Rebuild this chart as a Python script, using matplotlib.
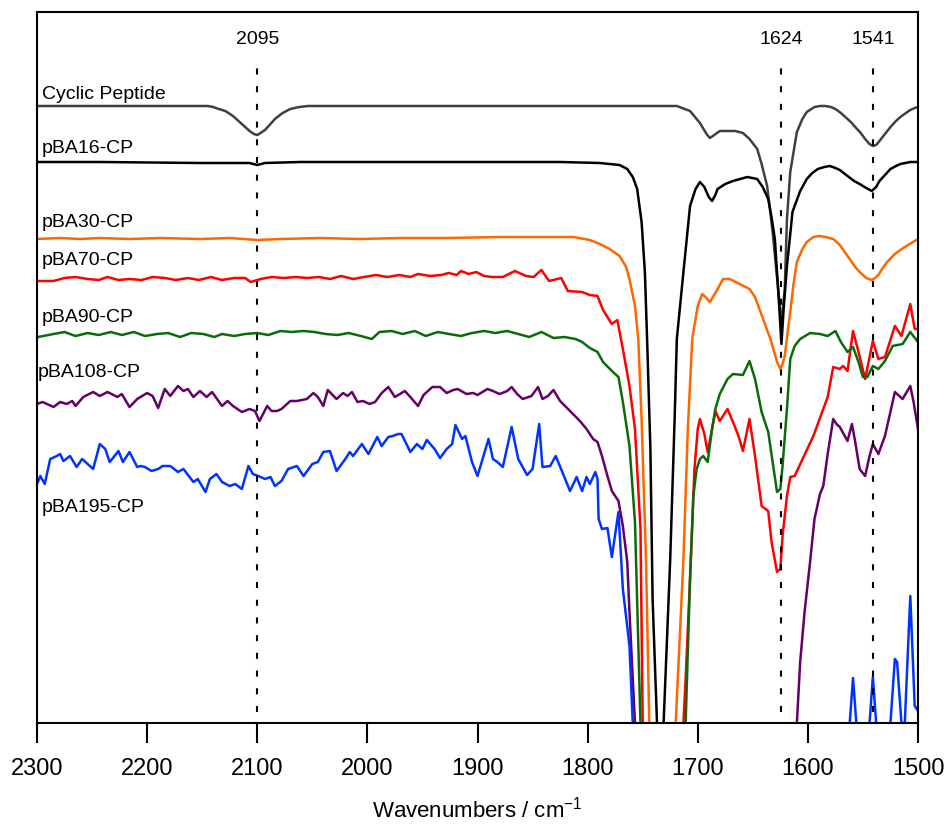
import matplotlib
matplotlib.use("Agg")
import matplotlib.pyplot as plt

plt.rcParams['font.family'] = ['Liberation Sans', 'DejaVu Sans']
plt.rcParams['mathtext.default'] = 'regular'

# ---------------- data (wavenumber, signal in arbitrary offset units) ----------------
cp_wn = [2300, 2197, 2152, 2145, 2140, 2135, 2129, 2122, 2116, 2111, 2107, 2103, 2100, 2097, 2093,
         2088, 2084, 2077, 2070, 2062, 2054, 1970, 1880, 1789,
         1719, 1707, 1698, 1692, 1689, 1685, 1680, 1666, 1659, 1653, 1646, 1642, 1637, 1632, 1627,
         1624, 1621, 1619, 1616, 1610, 1605, 1601, 1594, 1589, 1584, 1579, 1575, 1570, 1566, 1561,
         1557, 1552, 1548, 1544, 1541, 1538, 1535, 1530, 1525, 1520, 1516, 1511, 1507, 1503, 1500]
cp_y = [617, 617, 617, 617, 616, 614, 612, 607, 601, 596, 592, 589, 588, 590, 593,
        599, 604, 610, 614, 616, 617, 617, 617, 617,
        617, 612, 600, 589, 585, 588, 592, 592, 590, 584, 574, 559, 537, 491, 434,
        399, 434, 504, 551, 591, 604, 611, 616, 617, 617, 616, 614, 610, 606, 601,
        596, 590, 584, 579, 577, 578, 582, 589, 596, 602, 606, 610, 613, 615, 616]

p16_wn = [2300, 2243, 2152, 2107, 2100, 2093, 2061, 1970, 1880, 1825, 1789, 1771, 1764, 1759, 1755,
          1751, 1748, 1746, 1743, 1741, 1737, 1734, 1731, 1725, 1721, 1719, 1713, 1707, 1702, 1698,
          1694, 1690, 1687, 1684, 1682, 1675, 1668, 1655, 1646, 1641, 1636, 1633, 1630, 1627, 1624,
          1622, 1619, 1616, 1614, 1607, 1601, 1596, 1591, 1585, 1580, 1575, 1571, 1564, 1558, 1553,
          1547, 1542, 1538, 1535, 1530, 1525, 1520, 1516, 1507, 1500]
p16_y = [561, 561, 560, 560, 558, 560, 561, 561, 561, 561, 560, 558, 554, 546, 534,
         501, 451, 384, 274, 124, 0, -176, 0, 164, 304, 384, 451, 517, 534, 541,
         536, 526, 522, 528, 534, 539, 542, 546, 544, 536, 524, 506, 484, 434, 379,
         414, 457, 489, 511, 532, 544, 550, 554, 556, 557, 555, 553, 547, 542, 539,
         535, 532, 536, 542, 548, 554, 557, 559, 561, 561]

p30_wn = [2300, 2279, 2261, 2243, 2216, 2188, 2152, 2125, 2100, 2079, 2043, 2007, 1970, 1925, 1880,
          1843, 1813, 1798, 1789, 1780, 1771, 1765, 1762, 1757, 1754, 1751, 1747, 1744, 1732, 1720,
          1713, 1709, 1705, 1700, 1696, 1693, 1689, 1683, 1677, 1671, 1662, 1653, 1648, 1643, 1639,
          1634, 1630, 1628, 1625, 1623, 1621, 1618, 1616, 1613, 1610, 1605, 1601, 1595, 1590, 1584,
          1577, 1571, 1564, 1557, 1553, 1547, 1542, 1539, 1536, 1532, 1528, 1521, 1516, 1512, 1506,
          1500]
p30_y = [484, 485, 484, 485, 484, 485, 484, 485, 483, 484, 485, 484, 485, 485, 486,
         486, 486, 483, 479, 474, 467, 456, 444, 417, 384, 304, 164, 0, -226, 0,
         164, 294, 384, 417, 429, 426, 421, 432, 444, 444, 439, 434, 426, 411, 399,
         384, 369, 361, 354, 359, 367, 394, 411, 439, 461, 474, 481, 486, 487, 486,
         484, 478, 467, 456, 451, 445, 443, 445, 448, 455, 461, 469, 473, 476, 480,
         484]

p70_wn = [2299, 2285, 2275, 2265, 2254, 2244, 2236, 2226, 2216, 2205, 2195, 2184, 2174, 2163, 2153,
          2142, 2132, 2121, 2111, 2106, 2097, 2087, 2076, 2065, 2055, 2044, 2034, 2024, 2013, 2003,
          1992, 1982, 1971, 1961, 1954, 1943, 1933, 1926, 1919, 1915, 1908, 1901, 1894, 1887, 1877,
          1866, 1856, 1849, 1842, 1835, 1824, 1818, 1805, 1798, 1791, 1786, 1778, 1773, 1768, 1762,
          1757, 1752, 1750, 1732, 1713, 1711, 1707, 1703, 1700, 1698, 1694, 1691, 1687, 1684, 1680,
          1673, 1668, 1663, 1659, 1653, 1648, 1642, 1636, 1633, 1628, 1625, 1623, 1619, 1616, 1612,
          1595, 1582, 1577, 1571, 1568, 1564, 1559, 1554, 1548, 1541, 1536, 1530, 1521, 1515, 1507,
          1503, 1500]
p70_y = [442, 442, 445, 446, 444, 443, 446, 443, 444, 443, 446, 445, 443, 445, 443,
         446, 443, 445, 445, 441, 444, 446, 445, 446, 445, 446, 444, 447, 444, 446,
         448, 446, 448, 446, 449, 447, 448, 450, 448, 452, 449, 451, 447, 446, 446,
         452, 447, 446, 453, 442, 445, 432, 431, 428, 427, 413, 399, 403, 374, 337,
         294, 194, 0, -276, 0, 44, 144, 254, 294, 304, 289, 271, 294, 312, 302,
         314, 301, 287, 272, 304, 267, 217, 212, 181, 151, 154, 187, 227, 246, 247,
         287, 326, 356, 354, 357, 352, 392, 371, 344, 382, 364, 366, 397, 387, 419,
         394, 394]

p90_wn = [2299, 2285, 2275, 2265, 2254, 2244, 2233, 2223, 2212, 2202, 2191, 2181, 2170, 2160, 2149,
          2139, 2132, 2121, 2111, 2100, 2090, 2079, 2069, 2058, 2048, 2038, 2027, 2017, 2006, 1996,
          1989, 1978, 1968, 1957, 1947, 1936, 1926, 1915, 1905, 1894, 1884, 1873, 1863, 1853, 1842,
          1831, 1821, 1811, 1805, 1798, 1791, 1786, 1777, 1772, 1768, 1762, 1757, 1752, 1732, 1711,
          1707, 1704, 1701, 1698, 1695, 1691, 1687, 1684, 1680, 1673, 1668, 1659, 1653, 1648, 1642,
          1636, 1632, 1628, 1625, 1623, 1619, 1616, 1612, 1607, 1598, 1589, 1582, 1575, 1570, 1564,
          1559, 1554, 1550, 1546, 1541, 1536, 1530, 1523, 1514, 1507, 1500]
p90_y = [386, 389, 391, 387, 390, 388, 391, 388, 391, 387, 389, 390, 386, 390, 389,
         386, 389, 387, 389, 390, 388, 392, 391, 392, 391, 389, 388, 390, 387, 384,
         391, 392, 389, 392, 387, 391, 389, 387, 390, 392, 390, 392, 389, 386, 391,
         385, 386, 384, 381, 375, 371, 361, 351, 346, 321, 277, 201, 0, -226, 0,
         144, 227, 254, 264, 267, 261, 294, 314, 329, 344, 349, 348, 362, 344, 311,
         291, 261, 231, 234, 257, 314, 364, 377, 384, 390, 389, 387, 392, 381, 371,
         376, 361, 346, 346, 357, 354, 362, 377, 379, 391, 381]

p108_wn = [2300, 2295, 2285, 2279, 2273, 2268, 2265, 2258, 2249, 2243, 2236, 2227, 2223, 2216, 2209,
           2200, 2195, 2190, 2184, 2179, 2172, 2167, 2163, 2158, 2152, 2146, 2141, 2132, 2127, 2122,
           2114, 2107, 2102, 2098, 2091, 2087, 2082, 2078, 2070, 2064, 2055, 2049, 2045, 2040, 2036,
           2028, 2022, 2018, 2014, 2009, 2004, 1998, 1993, 1987, 1981, 1975, 1966, 1961, 1954, 1949,
           1941, 1934, 1928, 1922, 1918, 1910, 1904, 1900, 1891, 1886, 1880, 1873, 1869, 1864, 1859,
           1851, 1845, 1841, 1836, 1831, 1825, 1816, 1807, 1801, 1795, 1791, 1787, 1782, 1778, 1772,
           1768, 1764, 1762, 1759, 1757, 1698, 1610, 1607, 1603, 1598, 1594, 1589, 1586, 1582, 1577,
           1574, 1571, 1564, 1560, 1557, 1553, 1548, 1544, 1541, 1536, 1530, 1521, 1514, 1507, 1504,
           1500]
p108_y = [319, 321, 316, 321, 319, 322, 317, 326, 331, 327, 331, 326, 329, 316, 324,
          330, 327, 315, 334, 327, 337, 332, 334, 326, 332, 326, 331, 317, 322, 317,
          311, 314, 312, 302, 317, 312, 312, 314, 322, 322, 324, 330, 326, 317, 333,
          324, 330, 327, 331, 321, 322, 319, 321, 330, 336, 326, 332, 326, 317, 328,
          336, 336, 330, 333, 334, 329, 330, 328, 334, 332, 329, 332, 336, 329, 324,
          327, 336, 324, 327, 333, 322, 312, 302, 294, 284, 281, 267, 247, 232, 222,
          197, 161, 111, 44, 0, -576, 0, 61, 111, 161, 204, 229, 237, 269, 304,
          299, 296, 282, 299, 281, 254, 247, 267, 279, 269, 287, 331, 324, 337, 321,
          294]

p195_wn = [2300, 2297, 2293, 2288, 2282, 2279, 2276, 2270, 2264, 2259, 2254, 2249, 2243, 2238, 2234,
           2226, 2222, 2216, 2209, 2206, 2202, 2196, 2190, 2186, 2179, 2172, 2167, 2158, 2154, 2147,
           2143, 2137, 2132, 2125, 2120, 2114, 2108, 2104, 2099, 2093, 2088, 2084, 2078, 2072, 2064,
           2058, 2050, 2045, 2040, 2034, 2028, 2020, 2016, 2013, 2005, 1999, 1991, 1987, 1981, 1977,
           1972, 1969, 1961, 1955, 1950, 1946, 1939, 1934, 1928, 1923, 1920, 1914, 1911, 1905, 1900,
           1890, 1886, 1882, 1877, 1869, 1863, 1855, 1850, 1844, 1841, 1834, 1829, 1823, 1816, 1810,
           1805, 1801, 1798, 1793, 1791, 1790, 1787, 1782, 1778, 1772, 1768, 1762, 1759, 1698, 1564,
           1562, 1559, 1556, 1554, 1545, 1544, 1541, 1538, 1536, 1527, 1525, 1521, 1519, 1515, 1514,
           1512, 1507, 1503, 1501, 1500]
p195_y = [239, 247, 239, 264, 267, 269, 262, 267, 256, 264, 259, 254, 279, 274, 261,
          272, 261, 271, 256, 257, 256, 252, 254, 257, 257, 251, 254, 241, 244, 231,
          244, 249, 241, 237, 239, 234, 257, 249, 247, 244, 246, 237, 242, 254, 257,
          247, 259, 261, 271, 272, 252, 264, 271, 267, 279, 269, 286, 277, 286, 287,
          289, 289, 271, 279, 274, 283, 274, 265, 274, 279, 298, 284, 287, 261, 247,
          284, 264, 261, 256, 296, 264, 248, 254, 299, 256, 257, 267, 251, 232, 246,
          232, 246, 239, 251, 244, 204, 194, 195, 166, 211, 134, 77, 0, -576, -76,
          0, 45, 0, -76, -76, 0, 46, 0, -76, -76, 0, 64, 61, 0, -76,
          0, 127, 17, 14, 12]

series = [
    (cp_wn, cp_y, '#404040', 'Cyclic Peptide', 625, 2295.5),
    (p16_wn, p16_y, '#000000', 'pBA16-CP', 571, 2295.5),
    (p30_wn, p30_y, '#FF6600', 'pBA30-CP', 497, 2295.5),
    (p70_wn, p70_y, '#FF0000', 'pBA70-CP', 459, 2295.5),
    (p90_wn, p90_y, '#0B6B0B', 'pBA90-CP', 402, 2295.5),
    (p108_wn, p108_y, '#660066', 'pBA108-CP', 347, 2299.0),
    (p195_wn, p195_y, '#0033FF', 'pBA195-CP', 212, 2295.5),
]

marker_wn = [2100, 1624, 1541]
marker_labels = ['2095', '1624', '1541']
xticks = [2300, 2200, 2100, 2000, 1900, 1800, 1700, 1600, 1500]

# ---------------- figure ----------------
fig = plt.figure(figsize=(9.47, 8.29), dpi=100)
ax = fig.add_axes([37 / 947, 1 - 724 / 829, 881 / 947, 711 / 829])

for wn, y, col, lab, ly, lx in series:
    ax.plot(wn, y, color=col, lw=1.8, solid_joinstyle='round')
    ax.text(lx, ly, lab, fontsize=14, ha='left', va='baseline', color='black')

for wn, lab in zip(marker_wn, marker_labels):
    ax.plot([wn, wn], [11, 664], color='black', lw=1.5, linestyle=(0, (2.9, 5.6)))
    ax.text(wn, 680, lab, fontsize=14, ha='center', va='baseline')

ax.set_xlim(2300, 1500)
ax.set_ylim(0, 711)
ax.set_xticks(xticks)
ax.set_xticklabels([str(t) for t in xticks])
ax.set_yticks([])
ax.tick_params(axis='x', direction='out', length=14.4, width=1.5, labelsize=17, pad=10)
for sp in ax.spines.values():
    sp.set_linewidth(1.5)
ax.set_xlabel('Wavenumbers / cm$^{-1}$', fontsize=16, labelpad=12)

fig.savefig('out.png', dpi=100)
